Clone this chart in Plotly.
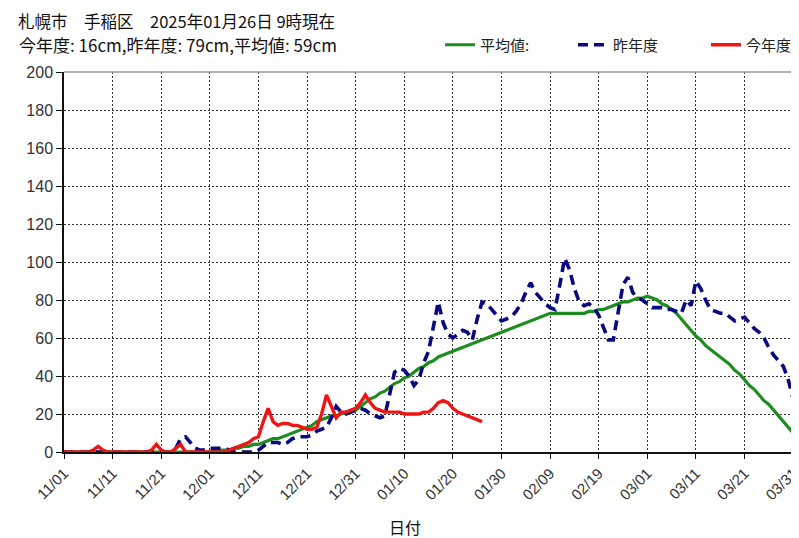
import pandas as pd
import plotly.graph_objects as go

# ---------------- data ----------------
season_start = "2024-11-01"

avg_values = [0] * 31 + [
    0.5, 1, 1, 1, 2, 2, 3, 3, 4, 4,            # d31-40
    5, 6, 7, 7, 8, 9, 10, 11, 12, 13,          # d41-50
    14, 16, 17, 18, 19, 19, 20, 21, 21, 22,    # d51-60
    24, 26, 28, 29, 31, 32, 34, 36, 37, 39,    # d61-70
    40, 42, 44, 45, 47, 48, 50, 51, 52, 53,    # d71-80
    54, 55, 56, 57, 58, 59, 60, 61, 62, 63,    # d81-90
    64, 65, 66, 67, 68, 69, 70, 71, 72, 73,    # d91-100
    73, 73, 73, 73, 73, 73, 73, 74, 74, 75,    # d101-110
    75, 76, 77, 78, 79, 79, 80, 81, 81, 82,    # d111-120
    81, 80, 78, 77, 75, 73, 70, 67, 64, 61,    # d121-130
    59, 56, 54, 52, 50, 48, 46, 43, 41, 38,    # d131-140
    35, 33, 30, 27, 25, 22, 19, 16, 13, 10,    # d141-150
    8,                                         # d151
]

last_year_values = [0] * 23 + [
    2, 7, 8, 5, 2, 1, 1,                       # d23-29
    2, 2, 2, 2, 1, 0, 0, 0, 0, 0,              # d30-39
    1, 3, 5, 5, 5, 4, 5, 7, 8, 8,              # d40-49
    8, 9, 11, 12, 13, 18, 24, 21, 20, 21,      # d50-59
    22, 23, 22, 20, 19, 18, 19, 30, 42, 44,    # d60-69
    43, 40, 35, 38, 47, 53, 66, 79, 68, 62,    # d70-79
    60, 62, 64, 63, 59, 70, 79, 78, 75, 72,    # d80-89
    69, 70, 71, 74, 78, 84, 89, 84, 81, 78,    # d90-99
    76, 75, 88, 102, 96, 86, 79, 77, 78, 76,   # d100-109
    72, 66, 59, 59, 74, 88, 92, 84, 81, 80,    # d110-119
    78, 76, 76, 76, 75, 75, 74, 73, 80, 77,    # d120-129
    90, 86, 80, 75, 74, 73, 73, 71, 69, 70,    # d130-139
    71, 68, 65, 63, 60, 55, 51, 48, 45, 38,    # d140-149
    28, 24,                                    # d150-151
]

this_year_values = [
    0, 0, 0, 0, 0, 0, 1, 3, 1, 0,              # d0-9
    0, 0, 0, 0, 0, 0, 0, 0, 1, 4,              # d10-19
    1, 0, 0, 2, 4, 0, 0, 0, 0, 0,              # d20-29
    0, 0, 0, 0, 1, 2, 3, 4, 5, 7,              # d30-39
    8, 16, 23, 16, 14, 15, 15, 14, 14, 13,     # d40-49
    12, 12, 13, 20, 30, 24, 18, 21, 21, 22,    # d50-59
    23, 26, 30, 26, 23, 22, 21, 21, 21, 21,    # d60-69
    20, 20, 20, 20, 21, 21, 23, 26, 27, 26,    # d70-79
    23, 21, 20, 19, 18, 17, 16,                # d80-86
]

tick_dates = ["2024-11-01", "2024-11-11", "2024-11-21", "2024-12-01", "2024-12-11",
              "2024-12-21", "2024-12-31", "2025-01-10", "2025-01-20", "2025-01-30",
              "2025-02-09", "2025-02-19", "2025-03-01", "2025-03-11", "2025-03-21",
              "2025-03-31"]
tick_labels = [d[5:7] + "/" + d[8:10] for d in tick_dates]

y_ticks = list(range(0, 201, 20))

title_text = "札幌市　手稲区　2025年01月26日 9時現在"
subtitle_text = "今年度: 16cm,昨年度: 79cm,平均値: 59cm"
legend_names = ["平均値:", "昨年度", "今年度"]
x_title = "日付"

# ---------------- figure ----------------
# page body has an 8px margin, so the figure is 8px smaller and all
# page-pixel positions are shifted by 8px
OFF = 8
W, H = 799 - OFF, 538 - OFF
L, R, T, B = 64 - OFF, 0, 72 - OFF, 538 - 452
PW, PH = W - L - R, H - T - B


def px_x(x):
    return (x - OFF - L) / PW


def px_y(y):
    return (H - B - (y - OFF)) / PH


dates_avg = pd.date_range(season_start, periods=len(avg_values), freq="D")
dates_last = pd.date_range(season_start, periods=len(last_year_values), freq="D")
dates_this = pd.date_range(season_start, periods=len(this_year_values), freq="D")

FONT = "Noto Sans CJK JP"

fig = go.Figure()
fig.add_trace(go.Scatter(x=dates_avg, y=avg_values, mode="lines", name=legend_names[0],
                         line=dict(color="#1e8c1e", width=3.2)))
fig.add_trace(go.Scatter(x=dates_last, y=last_year_values, mode="lines", name=legend_names[1],
                         line=dict(color="#0a0a80", width=3.6, dash="10px,6px")))
fig.add_trace(go.Scatter(x=dates_this, y=this_year_values, mode="lines", name=legend_names[2],
                         line=dict(color="#f01414", width=3.4)))

fig.update_layout(
    width=W, height=H,
    margin=dict(l=L, r=R, t=T, b=B, autoexpand=False),
    paper_bgcolor="white", plot_bgcolor="white",
    font=dict(family=FONT, size=15, color="#222222"),
    showlegend=True,
    legend=dict(orientation="h", x=px_x(440), y=px_y(45), xanchor="left", yanchor="middle",
                font=dict(size=15, color="#222222"), bgcolor="rgba(0,0,0,0)",
                entrywidth=88, entrywidthmode="pixels", tracegroupgap=0),
    xaxis=dict(
        type="date",
        range=["2024-11-01", "2025-04-01 05:00"],
        tickmode="array", tickvals=tick_dates, ticktext=tick_labels,
        tickangle=-45, tickfont=dict(family="Liberation Sans", size=15, color="#333333"),
        ticklabeloverflow="allow",
        showgrid=True, gridcolor="#333333", gridwidth=1, griddash="2px,2px",
        showline=True, linecolor="#111111", linewidth=1.5,
        ticks="outside", ticklen=5, tickcolor="#111111",
        zeroline=False,
    ),
    yaxis=dict(
        range=[0, 200], tickmode="array", tickvals=y_ticks,
        tickfont=dict(family="Liberation Sans", size=16, color="#333333"),
        showgrid=True, gridcolor="#333333", gridwidth=1, griddash="2px,2px",
        showline=True, linecolor="#111111", linewidth=1.5,
        ticks="outside", ticklen=6, tickcolor="#111111",
        zeroline=False,
    ),
    shapes=[dict(type="line", xref="paper", yref="paper", x0=0, x1=1, y0=1, y1=1,
                 line=dict(color="#999999", width=1.5))],
    annotations=[
        dict(text=title_text, xref="paper", yref="paper", x=px_x(17), y=px_y(21),
             xanchor="left", yanchor="middle", showarrow=False, borderpad=0,
             font=dict(family=FONT, size=16.5, color="#111111")),
        dict(text=subtitle_text, xref="paper", yref="paper", x=px_x(17), y=px_y(45),
             xanchor="left", yanchor="middle", showarrow=False,
             font=dict(family=FONT, size=17, color="#111111")),
        dict(text=x_title, xref="paper", yref="paper", x=px_x(405), y=px_y(527),
             xanchor="center", yanchor="middle", showarrow=False,
             font=dict(family=FONT, size=16, color="#111111")),
    ],
)

fig.write_html("out.html")
